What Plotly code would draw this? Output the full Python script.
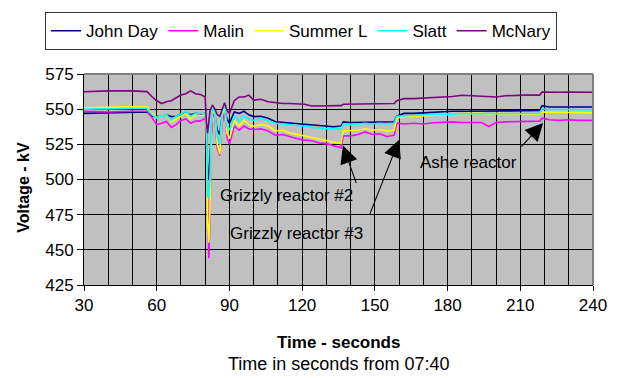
import plotly.graph_objects as go

time_s = [30, 40, 50, 56, 58, 60, 62, 64, 66, 68, 70, 72, 74, 76, 78, 80, 80.5, 81, 81.5, 82, 82.5, 83,
          84, 85, 86, 87, 88, 89, 90, 92, 94, 96, 98, 100, 103, 106, 109, 112, 115, 118, 121, 124, 127,
          130, 133, 136, 137, 140, 143, 146, 149, 152, 155, 158, 159, 162, 166, 170, 174, 178, 182, 186,
          190, 194, 197, 200, 204, 208, 212, 216, 218, 219, 222, 226, 230, 234, 238, 240]

john_day = [547, 547.5, 548, 548, 545, 544.7, 545, 546, 544.7, 545, 546.5, 547.5, 546, 547, 546.5, 547, 540, 505, 500, 520, 540, 548,
            545, 535, 532, 545, 550, 543, 540, 548, 547, 548.5, 546, 544.7, 545, 543.6, 541, 540.5, 540, 539.5, 539, 538.5, 538,
            538, 537.5, 538, 541, 540.5, 540.5, 541, 540.5, 541, 540.5, 541, 545, 547, 547, 547.5, 548, 548, 548.5, 548.5,
            548.5, 549, 549, 549, 549, 549, 549, 549, 549, 552.5, 551.5, 551.5, 551.5, 551.5, 551.5, 551.5]

malin = [548.5, 548, 548.5, 548.5, 544, 539, 540, 541.3, 537, 539, 542, 543, 540, 541.5, 541.5, 543.6, 534, 480, 444, 475, 530, 548,
         543, 522, 517, 540, 549, 530, 525, 538, 535, 538, 536, 535.5, 536, 534.5, 531.5, 532, 530.3, 529, 528, 527.5, 526,
         525.5, 524, 522.5, 531, 531, 532, 533.8, 532, 532.5, 530.5, 531.5, 540, 539.5, 540, 539.5, 540.3, 540.5, 541, 540.5,
         540.6, 540.5, 537.7, 540.5, 541, 541, 541.5, 541.5, 541.5, 543.6, 542.5, 542, 542.5, 542, 542, 542]

summer_l = [551, 551.5, 551.7, 551.5, 547, 544, 545, 546, 541, 543, 545.5, 547, 543, 546, 545.5, 546, 537, 470, 455, 480, 535, 550,
            546, 525, 518, 545, 552, 533, 529, 542, 538, 542, 539, 537.8, 539, 538, 534.5, 535, 533, 532, 531, 530, 528.5,
            528, 527, 525.5, 534.5, 534.5, 535, 536, 535, 535.5, 534.5, 535, 543.7, 544.7, 545, 545.5, 546, 546, 546.5, 547,
            547, 547, 546.5, 547, 547, 547, 547, 547, 546.5, 548, 548, 548, 548, 548, 548, 547.5]

slatt = [550, 550.5, 550.5, 550.5, 546, 543.6, 545, 546, 542, 545, 546.5, 548.5, 545, 547, 547, 547, 540, 488, 487, 500, 540, 551,
         548, 530, 525, 548, 554, 538, 535, 545, 541.6, 545, 543, 542, 543.5, 542, 540, 539.5, 538.9, 538, 537.5, 537, 536.5,
         536, 536, 536, 539.6, 539, 539.5, 540, 539.5, 540, 539.5, 540, 545, 545, 545.5, 546, 546, 546.5, 546.5, 546.7,
         546.7, 547, 547, 547, 547, 547, 547, 547, 547, 550.3, 549.8, 549.8, 549.8, 549.5, 549.8, 549.5]

mcnary = [562.4, 563, 563, 562.5, 559, 556, 554, 555.3, 556, 558, 560, 561, 563, 561, 560.5, 558.7, 540, 533, 540, 549, 551, 553,
          550, 546, 545, 550, 554.6, 549, 547, 556, 558.7, 558.7, 560, 556.4, 557, 555.3, 554.5, 554, 554, 554, 553.5, 552.3, 552.3,
          552.3, 552.3, 552.5, 553.5, 553.5, 553.5, 553.5, 553.5, 554, 554, 554, 556, 557.5, 557.5, 558, 558.7, 558.7, 559, 559.9,
          559.5, 559, 558.7, 558.7, 559.5, 560, 560, 560, 560, 562.2, 562, 562, 562.2, 562, 562, 562]

series_names = ["John Day", "Malin", "Summer L", "Slatt", "McNary"]
series_values = [john_day, malin, summer_l, slatt, mcnary]
series_colors = ["#000080", "#FF00FF", "#FFFF00", "#00FFFF", "#800080"]

x_ticks = [30, 60, 90, 120, 150, 180, 210, 240]
y_ticks = [425, 450, 475, 500, 525, 550, 575]

FONT = "Liberation Sans, Arial, sans-serif"

fig = go.Figure()
for name, vals, col in zip(series_names, series_values, series_colors):
    fig.add_trace(go.Scatter(x=time_s, y=vals, name=name, mode="lines",
                             line=dict(color=col, width=1.6)))

fig.update_layout(
    width=618, height=378,
    margin=dict(l=84, r=25, t=70, b=93),
    paper_bgcolor="white",
    plot_bgcolor="#C0C0C0",
    font=dict(family=FONT, size=16, color="black"),
    showlegend=True,
    legend=dict(orientation="h", x=-0.0766, xanchor="left", y=1.293, yanchor="top",
                bordercolor="#333333", borderwidth=1, font=dict(size=17),
                bgcolor="white", tracegroupgap=0),
)

fig.update_xaxes(range=[30, 240], tickvals=x_ticks, ticktext=[str(v) for v in x_ticks],
                 ticks="outside", ticklen=5, tickcolor="black", tickwidth=1,
                 showline=True, linecolor="black", linewidth=1,
                 showgrid=True, gridcolor="black", gridwidth=1,
                 minor=dict(dtick=10, tick0=30, showgrid=True, gridcolor="black", gridwidth=1, ticks=""),
                 zeroline=False, tickfont=dict(size=17))
fig.update_yaxes(range=[425, 575], tickvals=y_ticks, ticktext=[str(v) for v in y_ticks],
                 ticks="outside", ticklen=6, tickcolor="black", tickwidth=1,
                 showline=True, linecolor="black", linewidth=1,
                 showgrid=True, gridcolor="black", gridwidth=1,
                 zeroline=False, tickfont=dict(size=17))

# gray top and right border of plot area
fig.add_shape(type="line", xref="paper", yref="paper", x0=0, x1=1, y0=1, y1=1,
              line=dict(color="#808080", width=2))
fig.add_shape(type="line", xref="paper", yref="paper", x0=1, x1=1, y0=0, y1=1,
              line=dict(color="#808080", width=2))

annots = [
    dict(text="<b>Time - seconds</b>", xref="paper", yref="paper", x=0.5, y=-0.272,
         showarrow=False, font=dict(size=17), xanchor="center", yanchor="middle"),
    dict(text="Time in seconds from 07:40", xref="paper", yref="paper", x=0.5, y=-0.375,
         showarrow=False, font=dict(size=18), xanchor="center", yanchor="middle"),
    dict(text="<b>Voltage - kV</b>", xref="paper", yref="paper", x=-0.118, y=0.465,
         showarrow=False, font=dict(size=16), textangle=-90, xanchor="center", yanchor="middle"),
    dict(text="Grizzly reactor #2", x=85.3, y=488.5, showarrow=False, xanchor="left",
         yanchor="middle", font=dict(size=17)),
    dict(text="Grizzly reactor #3", x=89.4, y=461.3, showarrow=False, xanchor="left",
         yanchor="middle", font=dict(size=17)),
    dict(text="Ashe reactor", x=167.8, y=512.2, showarrow=False, xanchor="left",
         yanchor="middle", font=dict(size=17)),
    dict(text="", x=136.8, y=524.1, ax=14, ay=39, showarrow=True, arrowhead=2,
         arrowsize=3.2, arrowwidth=1.1, arrowcolor="black", standoff=0),
    dict(text="", x=160, y=528.2, ax=-30, ay=76, showarrow=True, arrowhead=2,
         arrowsize=3.2, arrowwidth=1.1, arrowcolor="black", standoff=0),
    dict(text="", x=219.4, y=540.1, ax=-23, ay=25, showarrow=True, arrowhead=2,
         arrowsize=3.2, arrowwidth=1.1, arrowcolor="black", standoff=0),
]
fig.update_layout(annotations=annots)

fig.write_html("out.html")
